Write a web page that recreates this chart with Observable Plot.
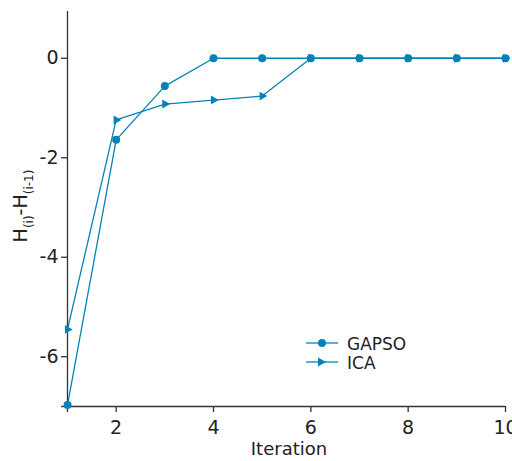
<!DOCTYPE html>
<html><head><meta charset="utf-8">
<script src="https://cdn.jsdelivr.net/npm/d3@7"></script>
<script src="https://cdn.jsdelivr.net/npm/@observablehq/plot@0.6"></script>
<style>body{margin:0;background:#fff}</style>
</head><body><div id="chart"></div>
<script>
const iterations = [1, 2, 3, 4, 5, 6, 7, 8, 9, 10];
const gapso = [-6.97, -1.64, -0.56, 0, 0, 0, 0, 0, 0, 0];
const ica = [-5.45, -1.24, -0.92, -0.84, -0.76, 0, 0, 0, 0, 0];
const seriesNames = ["GAPSO", "ICA"];
const xTicks = [1, 2, 4, 6, 8, 10];
const yTicks = [-7, -6, -4, -2, 0];
const color = "#0583b8";
const axisColor = "#333";

const gData = iterations.map((x, i) => ({x, y: gapso[i]}));
const iData = iterations.map((x, i) => ({x, y: ica[i]}));

const plot = Plot.plot({
  width: 512, height: 461,
  marginLeft: 67, marginRight: 7, marginTop: 11, marginBottom: 55,
  style: {fontFamily: "DejaVu Sans", background: "#fff"},
  x: {domain: [1, 10]},
  y: {domain: [-7, 0.94]},
  marks: [
    Plot.axisX({ticks: xTicks, tickFormat: d => d === 1 ? "" : d, tickSize: 6, tickPadding: 8, fontSize: 19, label: null, stroke: axisColor, strokeWidth: 1.3, fill: "#222"}),
    Plot.axisY({ticks: yTicks, tickFormat: d => d === -7 ? "" : d, tickSize: 6, tickPadding: 3, fontSize: 19, label: null, stroke: axisColor, strokeWidth: 1.3, fill: "#222"}),
    Plot.ruleX([1], {stroke: axisColor, strokeWidth: 1.3}),
    Plot.ruleY([-7], {stroke: axisColor, strokeWidth: 1.3}),
    Plot.line(iData, {x: "x", y: "y", stroke: color, strokeWidth: 1.3}),
    Plot.dot(iData, {x: "x", y: "y", symbol: "triangle", rotate: 90, r: 3.3, fill: color, stroke: null}),
    Plot.line(gData, {x: "x", y: "y", stroke: color, strokeWidth: 1.3}),
    Plot.dot(gData, {x: "x", y: "y", r: 4, fill: color, stroke: null})
  ]
});

const svg = d3.select(plot);
// x axis label
svg.append("text").attr("x", 289).attr("y", 455).attr("text-anchor", "middle")
  .attr("font-size", 18).attr("fill", "#222").text("Iteration");
// y axis label with subscripts
const yl = svg.append("text").attr("transform", "translate(27,206) rotate(-90)")
  .attr("text-anchor", "middle").attr("font-size", 19).attr("fill", "#222");
yl.append("tspan").text("H");
yl.append("tspan").attr("font-size", 12).attr("dy", 6).text("(i)");
yl.append("tspan").attr("dy", -6).text("-H");
yl.append("tspan").attr("font-size", 12).attr("dy", 6).text("(i-1)");

// legend
const lg = svg.append("g").attr("text-anchor", "start");
seriesNames.forEach((name, i) => {
  const y = 343 + i * 19;
  lg.append("line").attr("x1", 306).attr("x2", 338).attr("y1", y).attr("y2", y)
    .attr("stroke", color).attr("stroke-width", 1.3);
  if (i === 0) lg.append("circle").attr("cx", 322).attr("cy", y).attr("r", 4).attr("fill", color);
  else lg.append("path").attr("d", `M${318},${y-4.5}L${326},${y}L${318},${y+4.5}Z`).attr("fill", color);
  lg.append("text").attr("x", 347).attr("y", y + 7).attr("text-anchor", "start")
    .attr("font-size", 17).attr("fill", "#222").text(name);
});

document.getElementById("chart").appendChild(plot);
</script>
</body></html>
